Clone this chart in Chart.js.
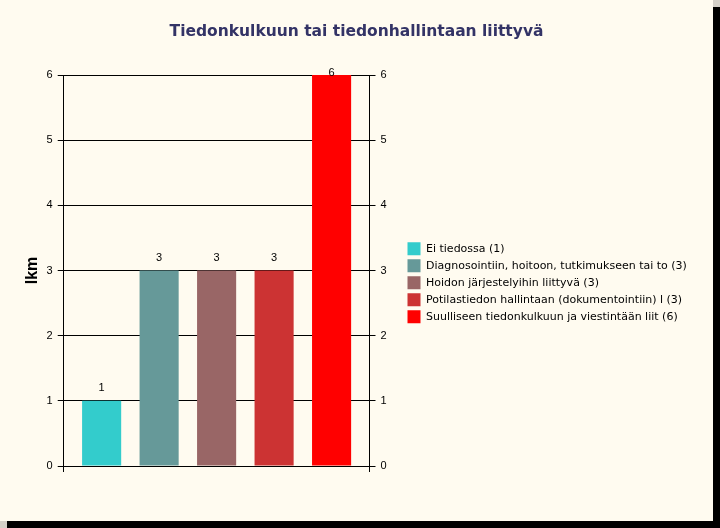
<!DOCTYPE html>
<html><head><meta charset="utf-8">
<script src="https://cdn.jsdelivr.net/npm/chart.js@4"></script>
<style>
html,body{margin:0;padding:0;background:#d4d0c8;width:720px;height:528px;overflow:hidden;}
#wrap{position:absolute;left:0;top:0;width:713px;height:521px;background:#fffbf0;box-shadow:7px 7px 0 #000;}
canvas{display:block;}
</style></head><body>
<div id="wrap"><canvas id="c" width="713" height="521"></canvas></div>
<script>
const chartTitle = 'Tiedonkulkuun tai tiedonhallintaan liittyvä';
const categories = [''];
const seriesNames = [
  'Ei tiedossa (1)',
  'Diagnosointiin, hoitoon, tutkimukseen tai to (3)',
  'Hoidon järjestelyihin liittyvä (3)',
  'Potilastiedon hallintaan (dokumentointiin) l (3)',
  'Suulliseen tiedonkulkuun ja viestintään liit (6)'
];
const seriesValues = [1, 3, 3, 3, 6];
const seriesColors = ['#33cccc', '#669999', '#996666', '#cc3333', '#ff0000'];
const yTickValues = [0, 1, 2, 3, 4, 5, 6];
const yAxisTitle = 'lkm';

const tickFont = {family: '"Liberation Sans", Arial, sans-serif', size: 11};

const valueLabels = {
  id: 'valueLabels',
  afterDatasetsDraw(chart) {
    const ctx = chart.ctx;
    ctx.save();
    ctx.font = '11px "Liberation Sans", Arial, sans-serif';
    ctx.fillStyle = '#000';
    ctx.textAlign = 'center';
    ctx.textBaseline = 'middle';
    chart.data.datasets.forEach((ds, i) => {
      const meta = chart.getDatasetMeta(i);
      meta.data.forEach((el, j) => {
        const y = Math.max(el.y - 13, chart.chartArea.top - 2);
        ctx.fillText(String(ds.data[j]), el.x, y);
      });
    });
    ctx.restore();
  }
};

// widen the legend box so the long labels are not clipped; centre the title on the whole canvas
const boxPlacement = {
  id: 'boxPlacement',
  afterLayout(chart) {
    const lg = chart.legend;
    if (lg) {
      lg.left = chart.chartArea.right + 34;
      lg.right = chart.width - 2;
      lg.width = lg.right - lg.left;
    }
    const tb = chart.titleBlock;
    if (tb) {
      tb.left = 0;
      tb.right = chart.width;
      tb.width = chart.width;
    }
  }
};

const datasets = seriesNames.map((name, i) => ({
  label: name,
  data: [seriesValues[i]],
  backgroundColor: seriesColors[i],
  borderWidth: 0,
  yAxisID: 'y'
}));

new Chart(document.getElementById('c'), {
  type: 'bar',
  data: {labels: categories, datasets},
  plugins: [valueLabels, boxPlacement],
  options: {
    responsive: false,
    animation: false,
    devicePixelRatio: 1,
    layout: {padding: {left: 20, right: 240, top: 0, bottom: 49}},
    datasets: {bar: {categoryPercentage: 0.94, barPercentage: 0.68}},
    plugins: {
      title: {
        display: true, text: chartTitle, color: '#333366',
        font: {family: '"DejaVu Sans", sans-serif', size: 15.5, weight: 'bold', lineHeight: 1.2},
        padding: {top: 23, bottom: 33.4}
      },
      legend: {
        position: 'right', align: 'center', fullSize: false,
        title: {display: true, text: '', font: {size: 12, lineHeight: 1.2}, padding: {top: 5, bottom: 5}},
        labels: {
          boxWidth: 13, boxHeight: 13, padding: 4, color: '#000',
          font: {family: '"DejaVu Sans", sans-serif', size: 11}
        }
      },
      tooltip: {enabled: false}
    },
    scales: {
      x: {
        type: 'category', offset: true,
        grid: {display: true, drawOnChartArea: false, drawTicks: true, tickLength: 6, color: '#000', offset: true},
        border: {display: true, color: '#000'},
        ticks: {display: false}
      },
      y: {
        position: 'left', min: 0, max: 6,
        afterBuildTicks(s) { s.ticks = yTickValues.map(v => ({value: v})); },
        ticks: {padding: 5, color: '#000', font: tickFont},
        grid: {color: '#000', tickLength: 6, tickColor: '#000'},
        border: {color: '#000'},
        title: {display: true, text: yAxisTitle, color: '#000', padding: {top: 4, bottom: 0},
          font: {family: '"Liberation Sans", Arial, sans-serif', size: 16, weight: 'bold', lineHeight: 1.1}}
      },
      y2: {
        position: 'right', min: 0, max: 6,
        afterBuildTicks(s) { s.ticks = yTickValues.map(v => ({value: v})); },
        ticks: {padding: 5, color: '#000', font: tickFont},
        grid: {drawOnChartArea: false, tickLength: 6, color: '#000'},
        border: {color: '#000'},
        afterFit(s) { s.width = 28; }
      }
    }
  }
});
</script>
</body></html>
